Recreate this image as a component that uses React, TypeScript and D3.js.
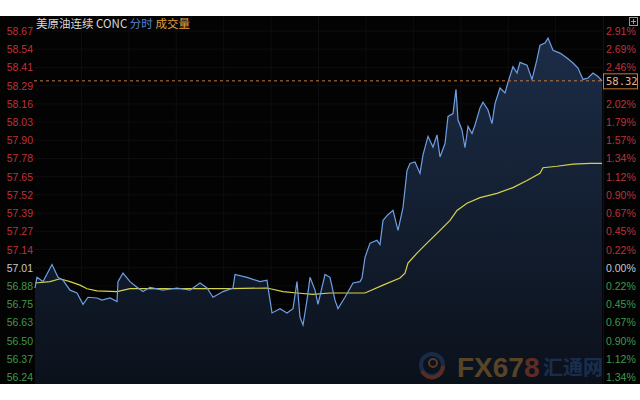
import React from "react";
import * as d3 from "d3";

const leftTicks = ["58.67","58.54","58.41","58.29","58.16","58.03","57.90","57.78","57.65","57.52","57.39","57.27","57.14","57.01","56.88","56.75","56.63","56.50","56.37","56.24"];
const rightTicks = ["2.91%","2.69%","2.46%","2.24%","2.02%","1.79%","1.57%","1.34%","1.12%","0.90%","0.67%","0.45%","0.22%","0.00%","0.22%","0.45%","0.67%","0.90%","1.12%","1.34%"];
const baseIndex = 13;
const lastPrice = 58.32;

const priceT = [1,3,9,18,24,29,36,43,49,54,63,68,76,83,84,89,96,103,109,116,129,143,156,166,173,179,189,199,201,213,226,233,234,238,246,253,259,263,266,269,273,276,281,284,291,296,301,304,311,319,326,328,331,336,343,346,349,354,359,364,369,373,376,381,386,389,394,399,403,406,411,414,419,422,424,428,431,434,438,441,446,449,454,458,461,466,471,474,479,483,486,493,498,503,506,511,514,519,526,533,539,544,549,554,559,564,568];
const priceV = [56.865,56.94,56.91,57.03,56.94,56.92,56.85,56.83,56.75,56.80,56.795,56.78,56.795,56.77,56.91,56.97,56.91,56.87,56.84,56.87,56.85,56.865,56.85,56.90,56.865,56.80,56.84,56.865,56.96,56.94,56.91,56.92,56.87,56.69,56.72,56.69,56.72,56.91,56.66,56.605,56.78,56.94,56.85,56.75,56.96,56.94,56.78,56.72,56.80,56.90,56.91,56.935,57.08,57.18,57.20,57.17,57.34,57.38,57.41,57.27,57.43,57.69,57.74,57.75,57.67,57.80,57.93,57.855,57.94,57.785,57.88,58.07,58.09,58.26,58.045,57.975,57.85,58.00,57.95,58.01,58.13,58.17,58.115,58.02,58.16,58.27,58.235,58.31,58.42,58.375,58.45,58.43,58.33,58.47,58.57,58.585,58.62,58.535,58.515,58.48,58.445,58.41,58.33,58.34,58.375,58.35,58.32];

const avgT = [1,16,26,36,46,53,63,83,96,129,163,196,233,249,263,279,296,326,331,349,366,371,374,383,393,406,416,423,433,446,463,479,493,506,509,523,539,556,568];
const avgV = [56.90,56.91,56.93,56.91,56.885,56.86,56.845,56.84,56.86,56.86,56.86,56.86,56.865,56.84,56.83,56.82,56.83,56.83,56.83,56.885,56.935,56.97,57.04,57.11,57.18,57.27,57.34,57.41,57.46,57.50,57.53,57.57,57.62,57.67,57.71,57.72,57.735,57.74,57.74];

const W = 640, H = 400;
const plotL = 34, plotR = 603, bgTop = 16, bgBot = 384;

export default function App() {
  const x = d3.scaleLinear().domain([0, 569]).range([plotL, plotR]);
  const yTop = parseFloat(leftTicks[0]);
  const yBot = parseFloat(leftTicks[leftTicks.length - 1]);
  const y = d3.scaleLinear().domain([yBot, yTop]).range([377, 31]);
  const tickY = (i: number) => y(yTop - (i * (yTop - yBot)) / (leftTicks.length - 1));

  const price = priceT.map((t, i) => [t, priceV[i]] as [number, number]);
  const avg = avgT.map((t, i) => [t, avgV[i]] as [number, number]);
  const line = d3.line<[number, number]>().x(d => x(d[0])).y(d => y(d[1]));
  const area = d3.area<[number, number]>().x(d => x(d[0])).y0(bgBot).y1(d => y(d[1]));

  const red = "#bd323a", green = "#3d9a4a", neutral = "#c8c8c8";
  const colorFor = (i: number) => (i < baseIndex ? red : i === baseIndex ? neutral : green);
  const font = "Arial, 'Liberation Sans', sans-serif";
  const cjk = "'Noto Sans CJK SC', sans-serif";
  const vGrid = d3.range(1, 12).map(k => plotL + (k * (plotR - plotL)) / 12);

  return (
    <svg width={W} height={H} style={{ position: "absolute", left: 0, top: 0, background: "#fff" }}>
      <defs>
        <linearGradient id="fillG" gradientUnits="userSpaceOnUse" x1="0" y1="31" x2="0" y2={bgBot}>
          <stop offset="0" stopColor="#1c2d48" />
          <stop offset="1" stopColor="#0b111b" />
        </linearGradient>
      </defs>
      <rect x={0} y={bgTop} width={W} height={bgBot - bgTop} fill="#030303" />
      {leftTicks.map((_, i) => (
        <line key={"h" + i} x1={plotL} x2={plotR} y1={tickY(i)} y2={tickY(i)} stroke="#0e0e12" strokeWidth={1} />
      ))}
      {vGrid.map((gx, i) => (
        <line key={"v" + i} x1={gx} x2={gx} y1={bgTop} y2={bgBot} stroke="#0e0e12" strokeWidth={1} />
      ))}
      <path d={area(price) || ""} fill="url(#fillG)" />
      <line x1={plotR + 0.5} x2={plotR + 0.5} y1={bgTop} y2={bgBot} stroke="#111" />
      {/* watermark */}
      <g opacity={0.42}>
        <circle cx={432} cy={365} r={11} fill="none" stroke="#2a4d80" strokeWidth={4} />
        <path d="M422,371 A11,11 0 0 0 443,366" fill="none" stroke="#c0502a" strokeWidth={4} />
        <circle cx={433} cy={363} r={4} fill="none" stroke="#c07030" strokeWidth={2} />
        <text x={457} y={377} fontFamily={font} fontWeight="bold" fontSize={28} fill="#c08a38">
          FX67<tspan fill="#d0502c">8</tspan>
        </text>
        <text x={543} y={375} fontFamily={cjk} fontWeight="bold" fontSize={20} fill="#2c5590">汇通网</text>
      </g>
      <path d={line(avg) || ""} fill="none" stroke="#d6d24a" strokeWidth={1.2} />
      <path d={line(price) || ""} fill="none" stroke="#6f9fe4" strokeWidth={1.2} />
      <line x1={plotL} x2={plotR} y1={y(lastPrice)} y2={y(lastPrice)} stroke="#c8783a" strokeDasharray="3,3" strokeWidth={1} />
      {leftTicks.map((t, i) => (
        <text key={"l" + i} x={33} y={tickY(i) + 4} textAnchor="end" fontFamily={font} fontSize={10.5} fill={colorFor(i)}>{t}</text>
      ))}
      {rightTicks.map((t, i) =>
        i === 3 ? null : (
          <text key={"r" + i} x={606} y={tickY(i) + 4} fontFamily={font} fontSize={10.5} fill={colorFor(i)}>{t}</text>
        )
      )}
      <rect x={603.5} y={y(lastPrice) - 7} width={34} height={15} fill="#030303" stroke="#c8783a" strokeWidth={1} />
      <text x={606} y={y(lastPrice) + 4} fontFamily="'DejaVu Sans Mono', monospace" fontSize={10.5} fill="#e0b890">{lastPrice.toFixed(2)}</text>
      <rect x={629.5} y={17.5} width={8} height={8} fill="none" stroke="#999" />
      <line x1={631} x2={636} y1={21.5} y2={21.5} stroke="#999" />
      <line x1={633.5} x2={633.5} y1={19} y2={24} stroke="#999" />
      <text x={36} y={28} fontFamily={cjk} fontSize={11.5}>
        <tspan fill="#d8d8d8">美原油连续 CONC </tspan>
        <tspan fill="#5b82cc">分时 </tspan>
        <tspan fill="#e0a040">成交量</tspan>
      </text>
    </svg>
  );
}
